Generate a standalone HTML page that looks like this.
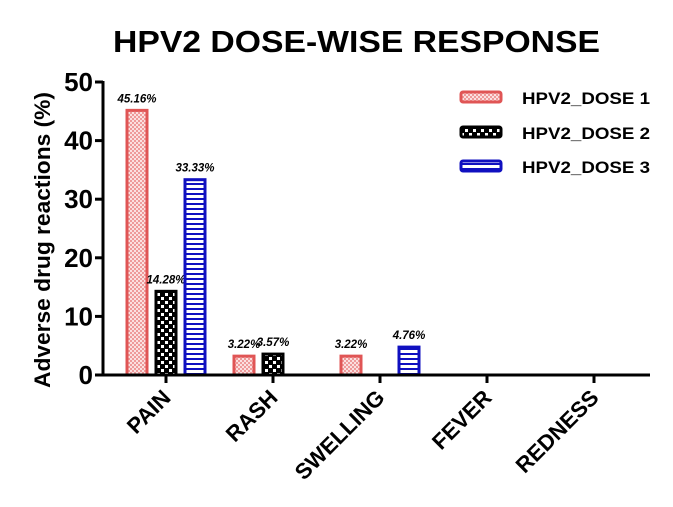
<!DOCTYPE html>
<html><head><meta charset="utf-8"><style>
body{margin:0;background:#fff;}
svg{display:block;font-family:"Liberation Sans",Arial,sans-serif;}
</style></head><body>
<svg id="chart" width="673" height="507" viewBox="0 0 673 507">
<defs>
<pattern id="p1" width="4" height="4" patternUnits="userSpaceOnUse"><rect width="4" height="4" fill="#ee9a9a"/><rect width="2" height="2" fill="#fbe0e0"/><rect x="2" y="2" width="2" height="2" fill="#fbe0e0"/></pattern>
<pattern id="p2" width="8" height="8" patternUnits="userSpaceOnUse"><rect width="8" height="8" fill="#000"/><rect x="1" y="1" width="3" height="3" fill="#fff"/><rect x="5" y="5" width="3" height="3" fill="#fff"/></pattern>
<pattern id="p3" width="6" height="5" patternUnits="userSpaceOnUse"><rect width="6" height="5" fill="#fff"/><rect y="3" width="6" height="2" fill="#1010c0"/></pattern>
</defs>
<text x="113" y="52" textLength="487" lengthAdjust="spacingAndGlyphs" font-size="31" font-weight="bold">HPV2 DOSE-WISE RESPONSE</text>
<text transform="translate(50,240) rotate(-90)" text-anchor="middle" textLength="296" lengthAdjust="spacingAndGlyphs" font-size="22" font-weight="bold">Adverse drug reactions (%)</text>
<g id="plot"></g>
<g>
<rect x="461" y="92" width="40" height="10" fill="url(#p1)" stroke="#e05555" stroke-width="3" rx="2"/>
<text x="522" y="104" textLength="128" lengthAdjust="spacingAndGlyphs" font-size="17" font-weight="bold">HPV2_DOSE 1</text>
<rect x="461" y="127" width="40" height="10" fill="url(#p2)" stroke="#000" stroke-width="3" rx="2"/>
<text x="522" y="139" textLength="128" lengthAdjust="spacingAndGlyphs" font-size="17" font-weight="bold">HPV2_DOSE 2</text>
<rect x="461" y="161" width="40" height="10" fill="url(#p3)" stroke="#1010c0" stroke-width="3" rx="2"/>
<text x="522" y="173" textLength="128" lengthAdjust="spacingAndGlyphs" font-size="17" font-weight="bold">HPV2_DOSE 3</text>
</g>
</svg>
<script>
const categories=["PAIN","RASH","SWELLING","FEVER","REDNESS"];
const dose1=[45.16,3.22,3.22,0,0];
const dose2=[14.28,3.57,0,0,0];
const dose3=[33.33,0,4.76,0,0];
const yTicks=[0,10,20,30,40,50];
const NS="http://www.w3.org/2000/svg";
const g=document.getElementById('plot');
const y0=375,y50=82,x0=103,xStart=166,step=107;
function ys(v){return y0-(v/50)*(y0-y50);}
function xs(i){return xStart+i*step;}
function mk(t,a){const e=document.createElementNS(NS,t);for(const k in a)e.setAttribute(k,a[k]);g.appendChild(e);return e;}
const series=[{d:dose1,f:"url(#p1)",s:"#e05555",o:-29},{d:dose2,f:"url(#p2)",s:"#000",o:0},{d:dose3,f:"url(#p3)",s:"#1010c0",o:29}];
series.forEach((S,si)=>{S.d.forEach((v,i)=>{if(v<=0)return;
const bw=20,cx=xs(i)+S.o;
const r=mk('rect',{x:cx-bw/2,y:ys(v),width:bw,height:y0-ys(v),fill:S.f,stroke:S.s,'stroke-width':3});


const t=mk('text',{x:cx,y:ys(v)-8,'text-anchor':'middle','font-size':11.5,'font-weight':'bold','font-style':'italic'});
t.textContent=v.toFixed(2)+'%';


});});
const ya=mk('line',{x1:x0,y1:y50-1,x2:x0,y2:y0,stroke:'#000','stroke-width':3});


const xa=mk('line',{x1:x0,y1:y0,x2:650,y2:y0,stroke:'#000','stroke-width':3});


yTicks.forEach(v=>{mk('line',{x1:x0-8,y1:ys(v),x2:x0,y2:ys(v),stroke:'#000','stroke-width':3});
const t=mk('text',{x:x0-10,y:ys(v)+9,'text-anchor':'end','font-size':26,'font-weight':'bold'});t.textContent=v;

});
categories.forEach((c,i)=>{mk('line',{x1:xs(i),y1:y0,x2:xs(i),y2:y0+8,stroke:'#000','stroke-width':3});
const t=mk('text',{transform:`translate(${xs(i)+6},${y0+24}) rotate(-45)`,'text-anchor':'end','font-size':22,'font-weight':'bold'});t.textContent=c;

});
</script>
</body></html>
